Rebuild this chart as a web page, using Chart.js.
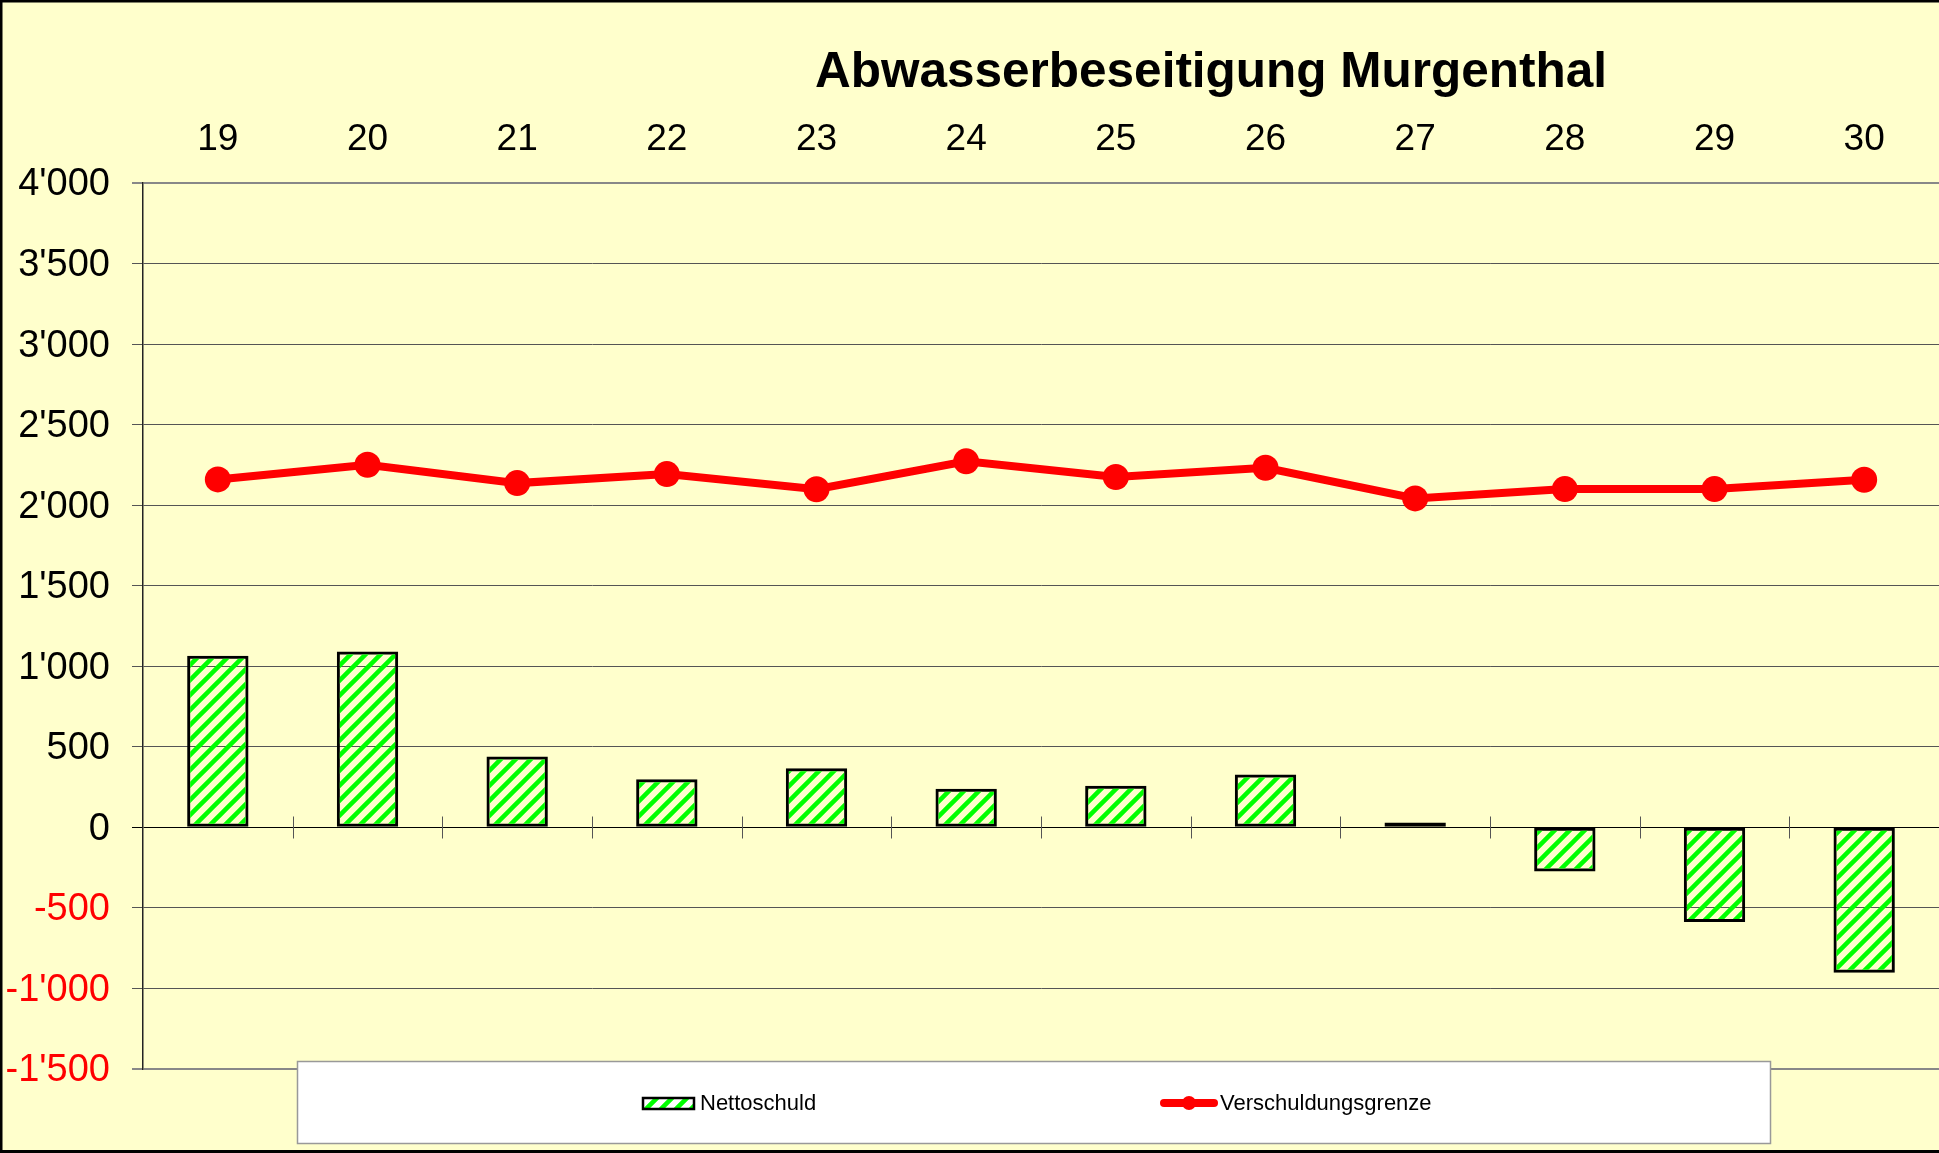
<!DOCTYPE html>
<html>
<head>
<meta charset="utf-8">
<script src="https://cdn.jsdelivr.net/npm/chart.js@4.4.1/dist/chart.umd.min.js"></script>
<style>
  body { margin: 0; background: #FFFFCC; }
  canvas { display: block; }
</style>
</head>
<body>
<canvas id="chart" width="1939" height="1153"></canvas>
<script>
// datos del grafico
const jahre = ['19', '20', '21', '22', '23', '24', '25', '26', '27', '28', '29', '30'];
const nettoschuld = [1065, 1091, 440, 299, 367, 239, 258, 328, 30, -274, -587, -903];
const verschuldungsgrenze = [2160, 2251, 2137, 2193, 2099, 2272, 2175, 2232, 2042, 2100, 2100, 2158];
const titel = 'Abwasserbeseitigung Murgenthal';
const serienNamen = ['Nettoschuld', 'Verschuldungsgrenze'];

const FONT = '"Liberation Sans", Arial, sans-serif';
Chart.defaults.font.family = FONT;

// patron rayado verde
function hatchPattern() {
    const s = 15;
    const tile = document.createElement('canvas');
    tile.width = s; tile.height = s;
    const t = tile.getContext('2d');
    t.strokeStyle = '#00FF00';
    t.lineWidth = 4.5;
    t.beginPath();
    t.moveTo(0, s); t.lineTo(s, 0);
    t.moveTo(-s / 2, s / 2); t.lineTo(s / 2, -s / 2);
    t.moveTo(s / 2, s * 1.5); t.lineTo(s * 1.5, s / 2);
    t.stroke();
    return document.getElementById('chart').getContext('2d').createPattern(tile, 'repeat');
}
const hatch = hatchPattern();

function formatZahl(v) {
    const s = Math.abs(v).toString().replace(/\B(?=(\d{3})+(?!\d))/g, "'");
    return (v < 0 ? '-' : '') + s;
}

// fondo y borde
const fondo = {
    id: 'fondo',
    beforeDraw(chart) {
        const c = chart.ctx;
        c.save();
        c.fillStyle = '#FFFFCC';
        c.fillRect(0, 0, chart.width, chart.height);
        c.strokeStyle = '#000';
        c.lineWidth = 3;
        c.beginPath();
        c.moveTo(1, chart.height);
        c.lineTo(1, 1);
        c.lineTo(chart.width, 1);
        c.moveTo(0, chart.height - 1.5);
        c.lineTo(chart.width, chart.height - 1.5);
        c.stroke();
        c.restore();
    }
};

// marcas del eje x sobre la linea cero
const nullTicks = {
    id: 'nullTicks',
    beforeDatasetsDraw(chart) {
        const x = chart.scales.x, y = chart.scales.y;
        const y0 = Math.round(y.getPixelForValue(0)) + 0.5;
        const c = chart.ctx;
        c.save();
        c.strokeStyle = '#555';
        c.lineWidth = 1;
        c.beginPath();
        for (let i = 1; i < jahre.length; i++) {
            const px = Math.round((x.getPixelForValue(i - 1) + x.getPixelForValue(i)) / 2) + 0.5;
            c.moveTo(px, y0 - 11);
            c.lineTo(px, y0 + 11);
        }
        c.stroke();
        c.restore();
    }
};

// titulo y leyenda
const titelUndLegende = {
    id: 'titelUndLegende',
    afterDraw(chart) {
        const c = chart.ctx;
        c.save();
        c.fillStyle = '#000';
        c.font = 'bold 49.5px ' + FONT;
        c.textAlign = 'center';
        c.textBaseline = 'middle';
        c.fillText(titel, 1211, 73);

        // caja blanca
        c.fillStyle = '#FFFFFF';
        c.fillRect(297, 1061, 1474, 83);
        c.strokeStyle = '#999';
        c.lineWidth = 1.5;
        c.strokeRect(297.5, 1061.5, 1473, 82);

        const ds = chart.data.datasets;
        const bar = ds.find(d => d.type === 'bar');
        const line = ds.find(d => d.type === 'line');

        // Nettoschuld
        c.fillStyle = bar.backgroundColor;
        c.fillRect(642, 1097, 53, 13);
        c.strokeStyle = '#000';
        c.lineWidth = 2.5;
        c.strokeRect(643, 1098, 51, 11);

        // Verschuldungsgrenze
        c.strokeStyle = line.borderColor;
        c.lineWidth = 8;
        c.lineCap = 'round';
        c.beginPath();
        c.moveTo(1164, 1103);
        c.lineTo(1214, 1103);
        c.stroke();
        c.fillStyle = line.borderColor;
        c.beginPath();
        c.arc(1189, 1103, 7, 0, Math.PI * 2);
        c.fill();

        c.fillStyle = '#000';
        c.font = '22px ' + FONT;
        c.textAlign = 'left';
        c.textBaseline = 'middle';
        c.fillText(bar.label, 700, 1104);
        c.fillText(line.label, 1220, 1104);
        c.restore();
    }
};

new Chart(document.getElementById('chart'), {
    data: {
        labels: jahre,
        datasets: [
            {
                type: 'line',
                label: serienNamen[1],
                data: verschuldungsgrenze,
                borderColor: '#FF0000',
                backgroundColor: '#FF0000',
                borderWidth: 8,
                pointRadius: 13,
                pointHoverRadius: 13,
                pointBorderWidth: 0,
                tension: 0,
                clip: false,
                order: 0
            },
            {
                type: 'bar',
                label: serienNamen[0],
                data: nettoschuld,
                backgroundColor: hatch,
                borderColor: '#000',
                borderWidth: 3,
                borderSkipped: false,
                categoryPercentage: 1,
                barPercentage: 0.41,
                order: 1
            }
        ]
    },
    options: {
        responsive: false,
        animation: false,
        events: [],
        layout: { autoPadding: false, padding: { top: 0, left: 0, right: 0, bottom: 84 } },
        plugins: {
            legend: { display: false },
            title: { display: false },
            tooltip: { enabled: false }
        },
        scales: {
            x: {
                position: 'top',
                offset: true,
                grid: { display: false, drawTicks: false },
                border: { display: false },
                ticks: { color: '#000', font: { size: 37 }, padding: 21, maxRotation: 0 },
                afterFit(scale) {
                    scale.height = 183;
                    scale.paddingLeft = 0;
                    scale.paddingRight = 0;
                }
            },
            y: {
                min: -1500,
                max: 4000,
                ticks: {
                    stepSize: 500,
                    padding: 22,
                    labelOffset: 2,
                    font: { size: 38 },
                    color: ctx => ctx.tick.value < 0 ? '#FF0000' : '#000',
                    callback: v => formatZahl(v)
                },
                grid: {
                    tickLength: 11,
                    color: ctx => {
                        const v = ctx.tick.value;
                        if (v === 0) return '#000';
                        if (v === 4000 || v === -1500) return '#888';
                        return '#555';
                    },
                    lineWidth: ctx => (ctx.tick.value === 4000 || ctx.tick.value === -1500) ? 2 : 1
                },
                border: { display: true, color: '#222', width: 1.5 },
                afterFit(scale) { scale.width = 143; }
            }
        }
    },
    plugins: [fondo, nullTicks, titelUndLegende]
});
</script>
</body>
</html>
